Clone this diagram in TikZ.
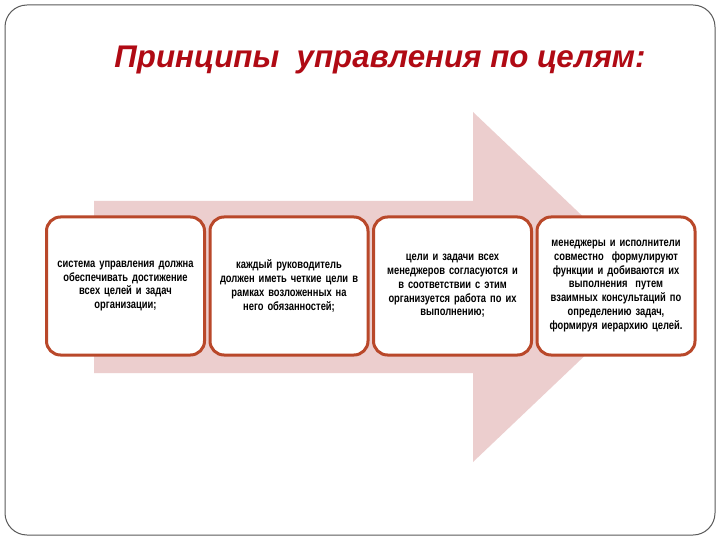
\documentclass[tikz,border=0pt]{standalone}
\usepackage{fontspec}
\setmainfont{Liberation Sans}
\newfontfamily\narrowfont{Liberation Sans}[FakeStretch=0.78]
\definecolor{arrowpink}{RGB}{236,206,206}
\definecolor{boxborder}{RGB}{185,72,42}
\definecolor{titlered}{RGB}{176,10,20}
\definecolor{framegray}{RGB}{90,90,90}
\begin{document}
\begin{tikzpicture}[x=1pt,y=-1pt,
  frame/.style={draw=framegray,line width=1pt,rounded corners=22pt},
  box/.style={draw=boxborder,fill=white,line width=3pt,rounded corners=14pt,
    minimum width=158pt,minimum height=138pt,text width=150pt,align=center,
    inner sep=0pt,font=\narrowfont\bfseries\fontsize{12}{13.8}\selectfont},
  titletext/.style={text=titlered,font=\bfseries\itshape\fontsize{31.3}{36}\selectfont,anchor=base}]
\useasboundingbox (0,0) rectangle (720,540);
\fill[white] (0,0) rectangle (720,540);
\draw[frame] (5,5) rectangle (715,535);
\node[titletext] (title) at (380,68) {Принципы\ \ управления по целям:};
\fill[arrowpink] (94,201) -- (473,201) -- (473,112) -- (657,287) -- (473,462) -- (473,373) -- (94,373) -- cycle;
\node[box] (b1) at (125.5,286) {система управления должна\\обеспечивать достижение\\всех целей и задач\\организации;};
\node[box] (b2) at (289,286) {каждый руководитель\\должен иметь четкие цели в\\рамках возложенных на\\него обязанностей;};
\node[box] (b3) at (452.5,286) {цели и задачи всех\\менеджеров согласуются и\\в соответствии с этим\\организуется работа по их\\выполнению;};
\node[box] (b4) at (616,286) {менеджеры и исполнители\\совместно\ \ формулируют\\функции и добиваются их\\выполнения\ \ путем\\взаимных консультаций по\\определению задач,\\формируя иерархию целей.};
\end{tikzpicture}
\end{document}
